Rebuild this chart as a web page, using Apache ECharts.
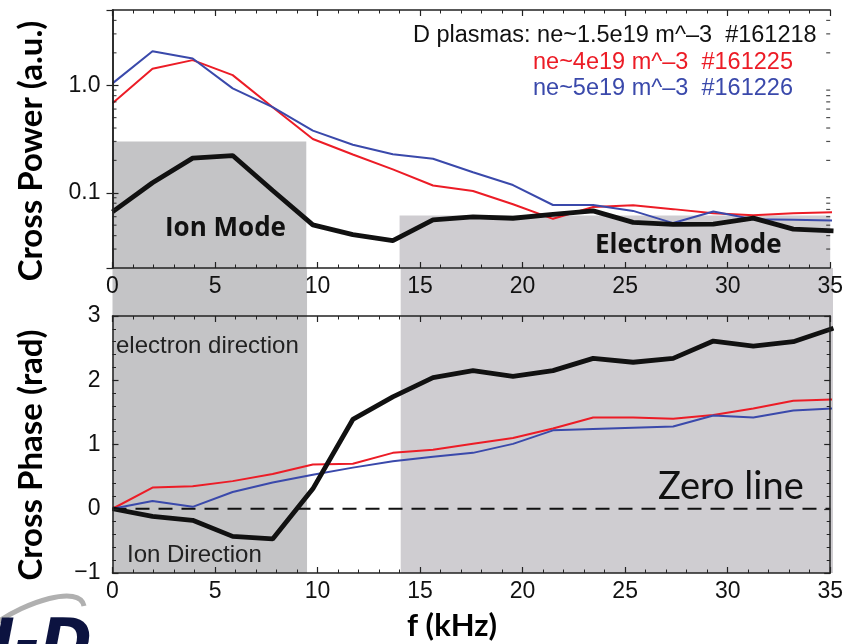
<!DOCTYPE html>
<html>
<head>
<meta charset="utf-8">
<script src="https://cdn.jsdelivr.net/npm/echarts@6/dist/echarts.min.js"></script>
<style>
html,body{margin:0;padding:0;background:#fff;}
#chart{width:846px;height:644px;}
</style>
</head>
<body>
<div id="chart"></div>
<script>
// ---- data ----
const freqKHz = [0, 1.95, 3.91, 5.86, 7.81, 9.77, 11.72, 13.67, 15.63, 17.58, 19.53, 21.48, 23.44, 25.39, 27.34, 29.30, 31.25, 33.20, 35.16];

const power161218 = [0.0665, 0.124, 0.210, 0.222, 0.105, 0.0504, 0.0408, 0.0359, 0.0561, 0.0598, 0.058, 0.0629, 0.0679, 0.0531, 0.0508, 0.0512, 0.0581, 0.046, 0.0443];
const power161225 = [0.681, 1.42, 1.71, 1.24, 0.625, 0.316, 0.227, 0.165, 0.117, 0.104, 0.0783, 0.0573, 0.0739, 0.0767, 0.0705, 0.0647, 0.062, 0.0647, 0.066];
const power161226 = [1.04, 2.07, 1.77, 0.935, 0.625, 0.378, 0.28, 0.228, 0.207, 0.155, 0.118, 0.077, 0.077, 0.0679, 0.0523, 0.067, 0.0569, 0.0561, 0.0553];

const phase161218 = [0, -0.12, -0.18, -0.43, -0.47, 0.31, 1.39, 1.74, 2.04, 2.15, 2.06, 2.15, 2.34, 2.28, 2.34, 2.61, 2.53, 2.60, 2.81];
const phase161225 = [0, 0.33, 0.35, 0.43, 0.54, 0.69, 0.70, 0.87, 0.92, 1.01, 1.10, 1.25, 1.42, 1.42, 1.40, 1.46, 1.56, 1.68, 1.70];
const phase161226 = [0, 0.12, 0.03, 0.26, 0.41, 0.53, 0.64, 0.74, 0.81, 0.87, 1.01, 1.22, 1.24, 1.26, 1.28, 1.45, 1.42, 1.53, 1.56];

const ionBand = [0, 9.45];        // kHz
const electronBand = [14, 35];    // kHz
const ionPowerTop = 0.30;
const electronPowerTop = 0.0614;

const powerTickLabels = {0.1: '0.1', 1: '1.0'};
const powerMinorTicks = [0.03, 0.04, 0.05, 0.06, 0.07, 0.08, 0.09, 0.2, 0.3, 0.4, 0.5, 0.6, 0.7, 0.8, 0.9, 2, 3, 4];

const legendLines = [
  'D plasmas: ne~1.5e19 m^\u20133  #161218',
  'ne~4e19 m^\u20133  #161225',
  'ne~5e19 m^\u20133  #161226'
];

// ---- styles ----
const RED = '#ec1c26', BLUE = '#3a49ab', BLACK = '#111111';
const GRAY_ION = '#c4c4c6', GRAY_EL = '#cfcdd1';
const AX = '#222';
const tickFont = '"Liberation Sans", Arial, Helvetica, sans-serif';

const pair = (xs, ys) => xs.map((x, i) => [x, ys[i]]);

function xAxisDef(grid, pos, showLabel) {
  return {
    type: 'value', gridIndex: grid, position: pos, min: 0, max: 35, interval: 5,
    axisLine: {show: true, onZero: false, lineStyle: {color: AX, width: 1.5}},
    axisTick: {show: true, inside: true, length: 6, lineStyle: {color: AX, width: 1.2}},
    minorTick: {show: true, splitNumber: 5, length: 3.5, lineStyle: {color: AX, width: 1}},
    splitLine: {show: false},
    axisLabel: {show: showLabel, fontSize: 23, color: '#111', fontFamily: tickFont, margin: 7,
      formatter: v => String(v)},
    z: 5
  };
}

const chart = echarts.init(document.getElementById('chart'), null, {renderer: 'canvas'});

const option = {
  animation: false,
  backgroundColor: '#ffffff',
  grid: [
    {left: 112.5, right: 13, top: 10, height: 258},
    {left: 112.5, right: 13, top: 316, height: 257},
    {left: 112.5, right: 13, top: 268, height: 305}
  ],
  xAxis: [
    xAxisDef(0, 'bottom', true),
    xAxisDef(0, 'top', false),
    xAxisDef(1, 'bottom', true),
    xAxisDef(1, 'top', false),
    {type: 'value', gridIndex: 2, min: 0, max: 35, show: false}
  ],
  yAxis: [
    {type: 'log', gridIndex: 0, position: 'left', min: 0.02, max: 5, logBase: 10,
      axisLine: {show: true, lineStyle: {color: AX, width: 1.5}},
      axisTick: {show: true, inside: true, length: 6, lineStyle: {color: AX, width: 1.2}},
      minorTick: {show: false},
      splitLine: {show: false},
      axisLabel: {fontSize: 23, color: '#111', fontFamily: tickFont, margin: 12,
        showMinLabel: false, showMaxLabel: false,
        formatter: v => {
          for (const k in powerTickLabels) { if (Math.abs(v - Number(k)) < 1e-9) return powerTickLabels[k]; }
          return '';
        }},
      z: 5},
    {type: 'log', gridIndex: 0, position: 'right', min: 0.02, max: 5, logBase: 10,
      axisLine: {show: true, lineStyle: {color: AX, width: 1.5}},
      axisTick: {show: true, inside: true, length: 6, lineStyle: {color: AX, width: 1.2}},
      splitLine: {show: false}, axisLabel: {show: false}, z: 5},
    {type: 'value', gridIndex: 1, position: 'left', min: -1, max: 3, interval: 1,
      axisLine: {show: true, onZero: false, lineStyle: {color: AX, width: 1.5}},
      axisTick: {show: true, inside: true, length: 6, lineStyle: {color: AX, width: 1.2}},
      minorTick: {show: true, splitNumber: 5, length: 3.5, lineStyle: {color: AX, width: 1}},
      splitLine: {show: false},
      axisLabel: {fontSize: 23, color: '#111', fontFamily: tickFont, margin: 12,
        formatter: v => (v < 0 ? '\u2212' + Math.abs(v) : String(v))},
      z: 5},
    {type: 'value', gridIndex: 1, position: 'right', min: -1, max: 3, interval: 1,
      axisLine: {show: true, onZero: false, lineStyle: {color: AX, width: 1.5}},
      axisTick: {show: true, inside: true, length: 6, lineStyle: {color: AX, width: 1.2}},
      minorTick: {show: true, splitNumber: 5, length: 3.5, lineStyle: {color: AX, width: 1}},
      splitLine: {show: false}, axisLabel: {show: false}, z: 5},
    {type: 'value', gridIndex: 2, min: 0, max: 1, show: false}
  ],
  series: [
    // shaded mode bands (top panel)
    {type: 'line', xAxisIndex: 0, yAxisIndex: 0, data: [], z: 0, silent: true,
      markArea: {silent: true, data: [
        [{xAxis: ionBand[0], yAxis: ionPowerTop, itemStyle: {color: GRAY_ION}}, {xAxis: ionBand[1], yAxis: 0.02}],
        [{xAxis: electronBand[0], yAxis: electronPowerTop, itemStyle: {color: GRAY_EL}}, {xAxis: electronBand[1], yAxis: 0.02}]
      ]}},
    // shaded bands continuing below (gap + bottom panel)
    {type: 'line', xAxisIndex: 4, yAxisIndex: 4, data: [], z: 0, silent: true,
      markArea: {silent: true, data: [
        [{xAxis: ionBand[0], yAxis: 0, itemStyle: {color: GRAY_ION}}, {xAxis: ionBand[1], yAxis: 1}],
        [{xAxis: electronBand[0], yAxis: 0, itemStyle: {color: GRAY_EL}}, {xAxis: electronBand[1], yAxis: 1}]
      ]}},
    // log minor ticks (left & right edges of top panel)
    {type: 'scatter', xAxisIndex: 0, yAxisIndex: 0, silent: true, z: 6,
      data: powerMinorTicks.map(v => [0, v]), symbol: 'rect', symbolSize: [4, 1.2], symbolOffset: [2, 0],
      itemStyle: {color: AX}},
    {type: 'scatter', xAxisIndex: 0, yAxisIndex: 0, silent: true, z: 6,
      data: powerMinorTicks.map(v => [35, v]), symbol: 'rect', symbolSize: [4, 1.2], symbolOffset: [-2, 0],
      itemStyle: {color: AX}},
    // cross power
    {type: 'line', name: '#161225', xAxisIndex: 0, yAxisIndex: 0, data: pair(freqKHz, power161225),
      symbol: 'none', lineStyle: {color: RED, width: 2}, z: 3},
    {type: 'line', name: '#161226', xAxisIndex: 0, yAxisIndex: 0, data: pair(freqKHz, power161226),
      symbol: 'none', lineStyle: {color: BLUE, width: 2}, z: 3},
    {type: 'line', name: '#161218', xAxisIndex: 0, yAxisIndex: 0, data: pair(freqKHz, power161218),
      symbol: 'none', lineStyle: {color: BLACK, width: 4.8}, z: 4},
    // cross phase
    {type: 'line', name: 'zero', xAxisIndex: 2, yAxisIndex: 2, data: [[0, 0], [35, 0]],
      symbol: 'none', lineStyle: {color: '#111', width: 2.2, type: [14, 9]}, z: 3},
    {type: 'line', name: '#161225p', xAxisIndex: 2, yAxisIndex: 2, data: pair(freqKHz, phase161225),
      symbol: 'none', lineStyle: {color: RED, width: 2}, z: 3},
    {type: 'line', name: '#161226p', xAxisIndex: 2, yAxisIndex: 2, data: pair(freqKHz, phase161226),
      symbol: 'none', lineStyle: {color: BLUE, width: 2}, z: 3},
    {type: 'line', name: '#161218p', xAxisIndex: 2, yAxisIndex: 2, data: pair(freqKHz, phase161218),
      symbol: 'none', lineStyle: {color: BLACK, width: 4.8}, z: 4}
  ],
  graphic: [
    {type: 'text', x: 413, y: 36, z: 10, style: {text: legendLines[0], fill: '#111', font: '23.5px ' + tickFont, align: 'left', verticalAlign: 'middle'}},
    {type: 'text', x: 533, y: 63, z: 10, style: {text: legendLines[1], fill: RED, font: '23.5px ' + tickFont, align: 'left', verticalAlign: 'middle'}},
    {type: 'text', x: 533, y: 89, z: 10, style: {text: legendLines[2], fill: BLUE, font: '23.5px ' + tickFont, align: 'left', verticalAlign: 'middle'}},
    {type: 'text', x: 165, y: 229, z: 10, style: {text: 'Ion Mode', fill: '#111', font: 'bold 26px "Open Sans", sans-serif', align: 'left', verticalAlign: 'middle'}},
    {type: 'text', x: 595, y: 246, z: 10, style: {text: 'Electron Mode', fill: '#111', font: 'bold 26px "Open Sans", sans-serif', align: 'left', verticalAlign: 'middle'}},
    {type: 'text', x: 116, y: 346, z: 10, style: {text: 'electron direction', fill: '#222', font: '24px ' + tickFont, align: 'left', verticalAlign: 'middle'}},
    {type: 'text', x: 127, y: 555, z: 10, style: {text: 'Ion Direction', fill: '#222', font: '24px ' + tickFont, align: 'left', verticalAlign: 'middle'}},
    {type: 'text', x: 658, y: 487, z: 10, style: {text: 'Zero line', fill: '#111', font: '38px Lato, sans-serif', align: 'left', verticalAlign: 'middle'}},
    {type: 'text', x: 31, y: 151, rotation: Math.PI / 2, z: 10, style: {text: 'Cross Power (a.u.)', fill: '#000', font: 'bold 33px Lato, sans-serif', align: 'center', verticalAlign: 'middle'}},
    {type: 'text', x: 31, y: 455, rotation: Math.PI / 2, z: 10, style: {text: 'Cross Phase (rad)', fill: '#000', font: 'bold 33px Lato, sans-serif', align: 'center', verticalAlign: 'middle'}},
    {type: 'text', x: 452, y: 626, z: 10, style: {text: 'f (kHz)', fill: '#000', font: 'bold 31px Lato, sans-serif', align: 'center', verticalAlign: 'middle'}},
    // partial logo fragment at lower left
    {type: 'bezierCurve', z: 1, shape: {x1: -5, y1: 624, x2: 84, y2: 606, cpx1: 25, cpy1: 602, cpx2: 80, cpy2: 584},
      style: {stroke: '#b0b0b0', lineWidth: 5, fill: null}},
    {type: 'text', x: 92, y: 616, z: 2, style: {text: 'I-D', fill: '#0c1340', font: 'italic bold 62px "DejaVu Sans", sans-serif', align: 'right', verticalAlign: 'top'}}
  ]
};

chart.setOption(option);
</script>
</body>
</html>
